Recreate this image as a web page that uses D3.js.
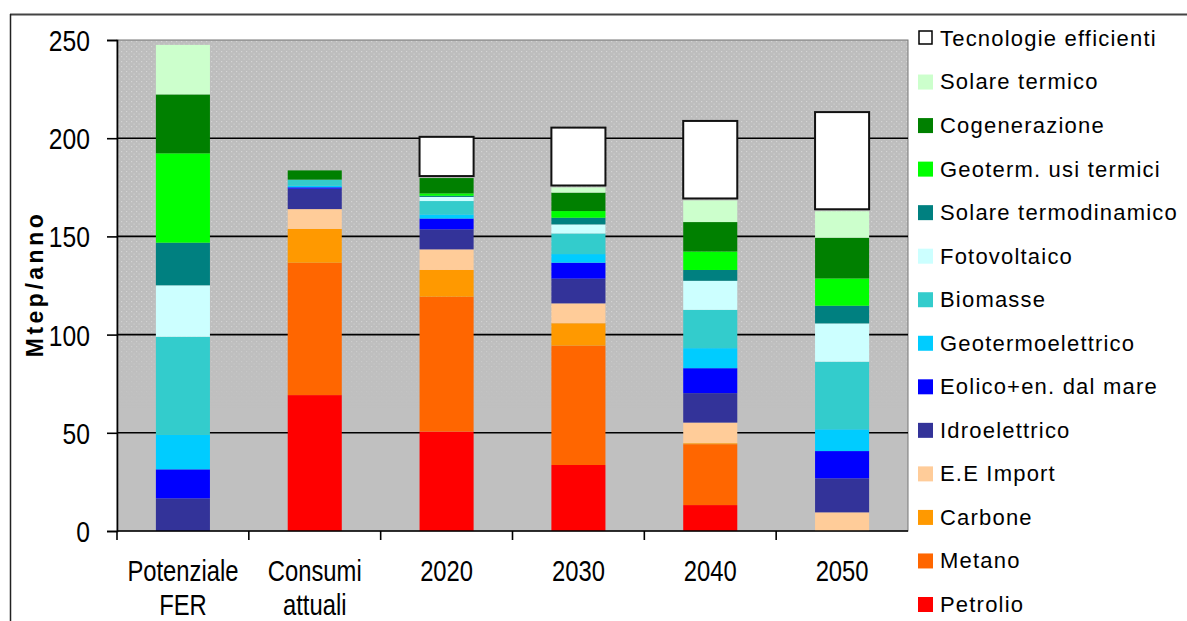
<!DOCTYPE html>
<html>
<head>
<meta charset="utf-8">
<script src="https://cdn.jsdelivr.net/npm/d3@7"></script>
<style>
  body { margin: 0; background: #fff; }
  svg { display: block; }
  text { font-family: "Liberation Sans", Arial, sans-serif; fill: #000; }
  .tick-lab { font-size: 29px; }
  .leg { font-size: 22px; letter-spacing: 1.2px; }
</style>
</head>
<body>
<svg id="chart" width="1187" height="621"></svg>
<script>
// categories on the x axis
var categories = ["Potenziale FER", "Consumi attuali", "2020", "2030", "2040", "2050"];
var catLines = [["Potenziale", "FER"], ["Consumi", "attuali"], ["2020"], ["2030"], ["2040"], ["2050"]];
var yTicks = [0, 50, 100, 150, 200, 250];

// Mtep/anno per source, one value per category
var petrolio     = [0, 69.2, 50.6, 33.6, 13.2, 0];
var metano       = [0, 67.4, 68.7, 60.8, 31.0, 0];
var carbone      = [0, 17.2, 13.6, 11.4, 0.5, 0];
var eeImport     = [0, 10.1, 10.5, 10.1, 10.5, 9.5];
var idro         = [16.6, 10.4, 10.2, 12.6, 15.0, 17.3];
var eolico       = [14.8, 0.7, 5.5, 8.1, 12.7, 13.9];
var geotermoel   = [17.5, 0.8, 2.1, 4.4, 10.2, 11.1];
var biomasse     = [50.0, 3.1, 6.8, 10.5, 19.5, 34.4];
var fotovoltaico = [26.2, 0, 2.1, 4.6, 14.8, 19.5];
var solTermodin  = [21.7, 0, 0.6, 3.4, 5.5, 9.0];
var geotermUsi   = [45.5, 0, 1.2, 3.4, 9.4, 13.9];
var cogen        = [30.0, 4.7, 7.8, 9.4, 15.0, 20.7];
var solTermico   = [25.2, 0, 0, 2.6, 11.0, 13.5];
var tecnEff      = [0, 0, 21.5, 31.0, 41.0, 51.0];

// stack order, bottom first
var series = [
  {key: "Petrolio", vals: petrolio, col: "#ff0000"},
  {key: "Metano", vals: metano, col: "#ff6600"},
  {key: "Carbone", vals: carbone, col: "#ff9900"},
  {key: "E.E Import", vals: eeImport, col: "#ffcc99"},
  {key: "Idroelettrico", vals: idro, col: "#333399"},
  {key: "Eolico+en. dal mare", vals: eolico, col: "#0000ff"},
  {key: "Geotermoelettrico", vals: geotermoel, col: "#00ccff"},
  {key: "Biomasse", vals: biomasse, col: "#33cccc"},
  {key: "Fotovoltaico", vals: fotovoltaico, col: "#ccffff"},
  {key: "Solare termodinamico", vals: solTermodin, col: "#008080"},
  {key: "Geoterm. usi termici", vals: geotermUsi, col: "#00ff00"},
  {key: "Cogenerazione", vals: cogen, col: "#008000"},
  {key: "Solare termico", vals: solTermico, col: "#ccffcc"},
  {key: "Tecnologie efficienti", vals: tecnEff, col: "#ffffff"}
];

var svg = d3.select("#chart");
// note: "top" is taken by window.top
var mL = 117, mR = 908, mT = 40, mB = 531;

var x = d3.scaleBand().domain(categories).range([mL, mR]).paddingInner(0).paddingOuter(0);
var y = d3.scaleLinear().domain([0, 250]).range([mB, mT]);
var barW = x.bandwidth() * 0.41;

// squeeze a text horizontally (the original labels are narrow)
function narrow(sel, k) {
  sel.each(function () {
    var w = this.getComputedTextLength();
    d3.select(this).attr("textLength", w * k).attr("lengthAdjust", "spacingAndGlyphs");
  });
}

// outer frame (cropped)
svg.append("line").attr("x1", 10).attr("x2", 1187).attr("y1", 14.5).attr("y2", 14.5)
  .attr("stroke", "#444").attr("stroke-width", 2);
svg.append("line").attr("x1", 10.5).attr("x2", 10.5).attr("y1", 14).attr("y2", 621)
  .attr("stroke", "#222").attr("stroke-width", 1.5);

// plot background with stipple in the upper part
var defs = svg.append("defs");
var pat = defs.append("pattern").attr("id", "dots").attr("width", 5).attr("height", 5)
  .attr("patternUnits", "userSpaceOnUse");
pat.append("rect").attr("width", 5).attr("height", 5).attr("fill", "#bdbdbd");
pat.append("rect").attr("x", 1).attr("y", 1).attr("width", 1.2).attr("height", 1.2).attr("fill", "#d4d4d4");
pat.append("rect").attr("x", 3.5).attr("y", 3.5).attr("width", 1.2).attr("height", 1.2).attr("fill", "#d0d0d0");
var grad = defs.append("linearGradient").attr("id", "fade").attr("x1", 0).attr("x2", 0).attr("y1", 0).attr("y2", 1);
grad.append("stop").attr("offset", "0%").attr("stop-color", "#fff");
grad.append("stop").attr("offset", "55%").attr("stop-color", "#fff");
grad.append("stop").attr("offset", "75%").attr("stop-color", "#000");
defs.append("mask").attr("id", "fadeMask").append("rect")
  .attr("x", mL).attr("y", mT).attr("width", mR - mL).attr("height", mB - mT)
  .attr("fill", "url(#fade)");

svg.append("rect").attr("x", mL).attr("y", mT).attr("width", mR - mL).attr("height", mB - mT)
  .attr("fill", "#c0c0c0");
svg.append("rect").attr("x", mL).attr("y", mT).attr("width", mR - mL).attr("height", mB - mT)
  .attr("fill", "url(#dots)").attr("mask", "url(#fadeMask)");
svg.append("rect").attr("x", mL).attr("y", mT).attr("width", mR - mL).attr("height", mB - mT)
  .attr("fill", "none").attr("stroke", "#777").attr("stroke-width", 1);

// gridlines
svg.append("g").selectAll("line").data(yTicks.filter(function (d) { return d > 0 && d < 250; }))
  .enter().append("line")
  .attr("x1", mL).attr("x2", mR)
  .attr("y1", function (d) { return y(d); }).attr("y2", function (d) { return y(d); })
  .attr("stroke", "#000").attr("stroke-width", 1.6);

// stacked bars
var rows = categories.map(function (c, i) {
  var r = {cat: c};
  series.forEach(function (s) { r[s.key] = s.vals[i]; });
  return r;
});
var stack = d3.stack().keys(series.map(function (s) { return s.key; }));
var layers = stack(rows);

var g = svg.append("g");
layers.forEach(function (layer, li) {
  var s = series[li];
  var eff = s.key === "Tecnologie efficienti";
  g.append("g").selectAll("rect").data(layer.filter(function (d) { return d[1] - d[0] > 0; }))
    .enter().append("rect")
    .attr("x", function (d) { return x(d.data.cat) + (x.bandwidth() - barW) / 2; })
    .attr("width", barW)
    .attr("y", function (d) { return y(d[1]) + (eff ? 1 : 0); })
    .attr("height", function (d) { return y(d[0]) - y(d[1]) - (eff ? 3 : 0); })
    .attr("fill", s.col)
    .attr("stroke", eff ? "#111" : "none")
    .attr("stroke-width", eff ? 2 : 0);
});

// y axis
var yAxis = d3.axisLeft(y).tickValues(yTicks).tickSize(10).tickPadding(17);
var ya = svg.append("g").attr("transform", "translate(" + mL + ",0)").call(yAxis);
ya.select(".domain").attr("stroke", "#000").attr("stroke-width", 1.6);
ya.selectAll(".tick line").attr("stroke", "#000").attr("stroke-width", 1.6);
ya.selectAll(".tick text").attr("class", "tick-lab").attr("fill", "#000").attr("font-size", null)
  .attr("font-family", null).attr("dy", "0.36em");
narrow(ya.selectAll(".tick text"), 0.85);

// x axis: ticks at band boundaries
var xa = svg.append("g");
xa.append("line").attr("x1", mL).attr("x2", mR).attr("y1", mB).attr("y2", mB)
  .attr("stroke", "#000").attr("stroke-width", 1.6);
xa.selectAll("line.tk").data(categories).enter().append("line").attr("class", "tk")
  .attr("x1", function (d) { return x(d); }).attr("x2", function (d) { return x(d); })
  .attr("y1", mB).attr("y2", mB + 9)
  .attr("stroke", "#000").attr("stroke-width", 1.6);
categories.forEach(function (d, i) {
  catLines[i].forEach(function (ln, k) {
    xa.append("text").attr("class", "tick-lab xl")
      .attr("text-anchor", "middle")
      .attr("x", x(d) + x.bandwidth() / 2)
      .attr("y", mB + 50 + k * 34)
      .text(ln);
  });
});
narrow(xa.selectAll("text.xl"), 0.82);

// y title
svg.append("text")
  .attr("transform", "translate(43,284) rotate(-90)")
  .attr("text-anchor", "middle")
  .attr("font-weight", "bold")
  .attr("font-size", 23)
  .attr("letter-spacing", "3.5px")
  .text("Mtep/anno");

// legend, top entry is the last stacked series
var legItems = series.slice().reverse();
var lg = svg.append("g");
var ly = d3.scalePoint().domain(legItems.map(function (s) { return s.key; })).range([38, 604]);
legItems.forEach(function (s) {
  var cy = ly(s.key);
  var eff = s.key === "Tecnologie efficienti";
  lg.append("rect").attr("x", eff ? 919 : 918).attr("y", cy - 7).attr("width", eff ? 13 : 15).attr("height", eff ? 13 : 15)
    .attr("fill", s.col).attr("stroke", eff ? "#000" : "none").attr("stroke-width", 1.5);
  lg.append("text").attr("class", "leg").attr("x", 940).attr("y", cy).attr("dy", "0.36em").text(s.key);
});
</script>
</body>
</html>
